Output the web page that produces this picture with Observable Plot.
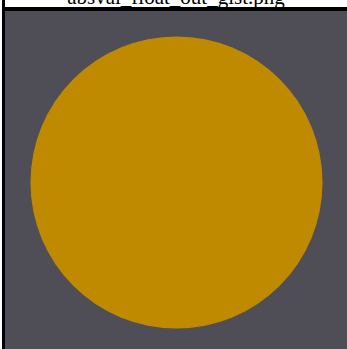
<!DOCTYPE html>
<html>
<head>
<meta charset="utf-8">
<script src="https://cdn.jsdelivr.net/npm/d3@7"></script>
<script src="https://cdn.jsdelivr.net/npm/@observablehq/plot@0.6"></script>
<style>
  html, body { margin: 0; padding: 0; background: #fff; overflow: hidden; }
  #wrap { position: relative; width: 347px; height: 349px; overflow: hidden; background: #fff; }
  #title { position: absolute; left: 5px; width: 342px; top: -13px; text-align: center;
           font-family: "Liberation Serif", "DejaVu Serif", serif; font-size: 21px; line-height: 21px; color: #000; white-space: nowrap; }
  #lborder { position: absolute; left: 2px; top: 0; width: 3px; height: 349px; background: #000; }
  #tborder { position: absolute; left: 2px; top: 7px; width: 345px; height: 4px; background: #000; }
  #chart { position: absolute; left: 5px; top: 11px; }
  #chart svg { display: block; }
</style>
</head>
<body>
<div id="wrap">
  <div id="title"></div>
  <div id="lborder"></div>
  <div id="tborder"></div>
  <div id="chart"></div>
</div>
<script>
const titleText = "absval_float_out_gist.png";
const centersX = [0.5];
const centersY = [0.5];
const radii = [0.427];   // radius as a fraction of the image width
const imageSize = 342;

document.getElementById("title").textContent = titleText;

const data = centersX.map((x, i) => ({x, y: centersY[i], r: radii[i]}));

const chart = Plot.plot({
  width: imageSize,
  height: imageSize,
  margin: 0,
  style: {background: "#4f4e57", overflow: "visible"},
  x: {domain: [0, 1], axis: null},
  y: {domain: [0, 1], axis: null},
  r: {type: "linear", domain: [0, 1], range: [0, imageSize]},
  marks: [
    Plot.dot(data, {x: "x", y: "y", r: "r", fill: "#bf8a00", stroke: "none"})
  ]
});
document.getElementById("chart").appendChild(chart);
</script>
</body>
</html>
